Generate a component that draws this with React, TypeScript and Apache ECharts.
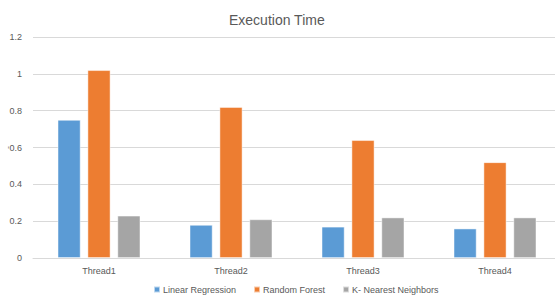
import React, { useEffect, useRef } from "react";
import * as echarts from "echarts";

const categories = ["Thread1", "Thread2", "Thread3", "Thread4"];
const linearRegression = [0.75, 0.18, 0.17, 0.16];
const randomForest = [1.02, 0.82, 0.64, 0.52];
const knn = [0.23, 0.21, 0.22, 0.22];
const seriesNames = ["Linear Regression", "Random Forest", "K- Nearest Neighbors"];
const colors = ["#5B9BD5", "#ED7D31", "#A5A5A5"];
const yAxisTitle = "-";

export default function App() {
  const ref = useRef<HTMLDivElement>(null);
  useEffect(() => {
    document.body.style.margin = "0";
    const chart = echarts.init(ref.current!, undefined, { renderer: "svg" });
    const font = "Liberation Sans, Arial, sans-serif";
    const mk = (name: string, data: number[], color: string) => ({
      name,
      type: "bar",
      data,
      barWidth: 23,
      barGap: "30%",
      itemStyle: { color, borderColor: "rgba(255,255,255,0.6)", borderWidth: 0.8 },
    });
    chart.setOption({
      animation: false,
      color: colors,
      title: {
        text: "Execution Time",
        left: 224,
        top: 8,
        textStyle: { fontFamily: font, fontSize: 14, fontWeight: "normal", color: "#595959" },
      },
      legend: {
        bottom: 3,
        left: 148,
        itemWidth: 6,
        itemHeight: 6,
        itemGap: 17,
        icon: "rect",
        textStyle: { fontFamily: font, fontSize: 9, color: "#595959", padding: [0, 0, 0, -2] },
        data: seriesNames,
      },
      graphic: [
        {
          type: "text",
          left: 3,
          top: 146,
          rotation: Math.PI / 2,
          style: {
            text: yAxisTitle,
            fontFamily: font,
            fontSize: 9,
            fill: "#7F7F7F",
          },
        },
      ],
      grid: {
        left: 33,
        top: 37,
        width: 528,
        height: 221,
        containLabel: false,
        outerBoundsMode: "none",
      },
      xAxis: {
        type: "category",
        data: categories,
        axisLine: { lineStyle: { color: "#D9D9D9", width: 1 } },
        axisTick: { show: false },
        axisLabel: { fontFamily: font, fontSize: 9, color: "#595959", margin: 8 },
      },
      yAxis: {
        type: "value",
        min: 0,
        max: 1.2,
        interval: 0.2,
        axisLine: { show: false },
        axisTick: { show: false },
        splitLine: { lineStyle: { color: "#D9D9D9", width: 1 } },
        axisLabel: {
          fontFamily: font,
          fontSize: 9,
          color: "#595959",
          margin: 11,
          formatter: (v: number) => String(Math.round(v * 10) / 10),
        },
      },
      series: [
        mk(seriesNames[0], linearRegression, colors[0]),
        mk(seriesNames[1], randomForest, colors[1]),
        mk(seriesNames[2], knn, colors[2]),
      ],
    });
    return () => chart.dispose();
  }, []);
  return <div ref={ref} style={{ width: 555, height: 302 }} />;
}
